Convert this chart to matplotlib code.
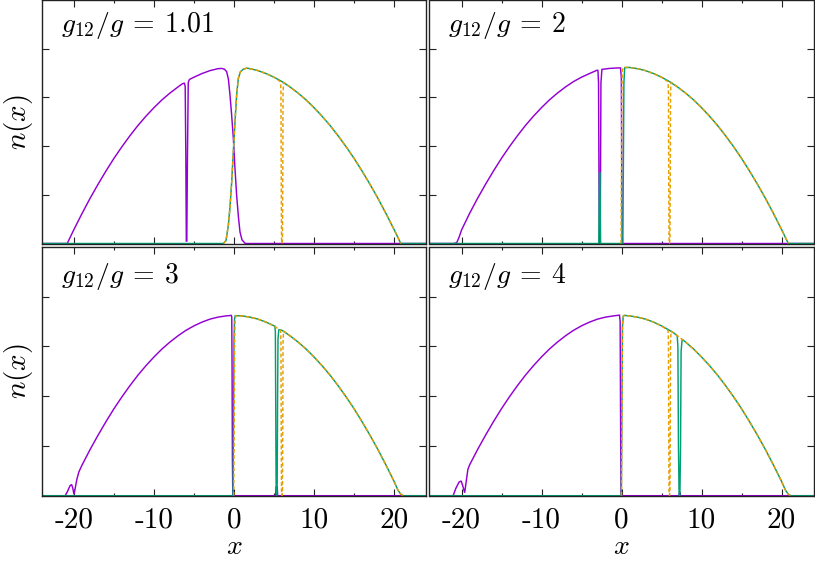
import matplotlib
matplotlib.use('Agg')
import matplotlib.pyplot as plt
from matplotlib.ticker import MultipleLocator, FixedLocator

plt.rcParams['mathtext.fontset'] = 'cm'
plt.rcParams['axes.unicode_minus'] = False

PURPLE = '#9400d3'
GREEN = '#009e73'
ORANGE = '#e69f00'

# ---- data ----
# common density envelope: distance from trap centre -> density
ENV_D = [20.85, 20.5, 20, 19, 18, 17, 16, 15, 14, 13, 12, 11, 10, 9, 8, 7, 6, 5, 4, 3, 2, 1]
ENV_N = [0.0, 0.024, 0.058, 0.123, 0.185, 0.243, 0.298, 0.350, 0.398, 0.443, 0.485, 0.523,
         0.558, 0.590, 0.618, 0.643, 0.665, 0.683, 0.698, 0.710, 0.718, 0.723]

# right-edge tail in the lower panels
TAIL_X = [20.5, 20.85, 21.15, 24]
TAIL_Y = [0.022, 0.006, 0.0, 0.0]

# orange dashed curve: dark soliton at x = 6
ODIP_X = [5.82, 5.87, 5.9, 5.94, 6.0, 6.06, 6.1, 6.13, 6.2]
ODIP_Y = [0.664, 0.62, 0.3, 0.02, 0.0, 0.02, 0.3, 0.62, 0.662]

LABELS = [r'$g_{12}/g\:=\:1.01$', r'$g_{12}/g\:=\:2$', r'$g_{12}/g\:=\:3$', r'$g_{12}/g\:=\:4$']

# panel 1
P1_PUR_X = [-6.5, -6.2, -6.1, -6.02, -5.96, -5.9, -5.82, -5.72, -5.6, -5.5, -5, -4, -3, -2,
            -1.54, -1.2, -0.92, -0.7, -0.5, -0.3, -0.08, 0.1, 0.33, 0.55, 0.75, 1.0, 1.4, 24]
P1_PUR_Y = [0.655, 0.659, 0.645, 0.35, 0.01, 0.01, 0.35, 0.66, 0.672, 0.675, 0.683, 0.698, 0.710, 0.718,
            0.719, 0.716, 0.706, 0.675, 0.609, 0.53, 0.431, 0.32, 0.198, 0.11, 0.047, 0.015, 0.0, 0.0]
P1_RISE_X = [-24, -1.33, -1.0, -0.71, -0.5, -0.29, -0.08, 0.125, 0.33, 0.54, 0.8, 1.17, 1.6]
P1_RISE_Y = [0.0, 0.0, 0.012, 0.074, 0.15, 0.252, 0.38, 0.5, 0.61, 0.678, 0.705, 0.716, 0.72]

# panel 2
P2_PUR_EDGE_X = [-24, -21.0, -20.6, -20.3, -20.0]
P2_PUR_EDGE_Y = [0.0, 0.0, 0.003, 0.026, 0.055]
P2_PUR_X = [-3.1, -2.95, -2.87, -2.82, -2.77, -2.72, -2.67, -2.62, -2.57, -2.45, -1.5, -0.5,
            -0.12, -0.02, 0.03, 0.08, 24]
P2_PUR_Y = [0.711, 0.712, 0.66, 0.3, 0.02, 0.0, 0.02, 0.3, 0.66, 0.715, 0.719, 0.721,
            0.721, 0.68, 0.3, 0.0, 0.0]
P2_GRN_X = [-24, -2.84, -2.8, -2.76, -2.69, -2.65, -2.61, 0.17, 0.24, 0.3, 0.4, 1]
P2_GRN_Y = [0.0, 0.0, 0.15, 0.29, 0.29, 0.15, 0.0, 0.0, 0.35, 0.66, 0.722, 0.723]
P2_ORA_X = [-0.06, -0.01, 0.04, 0.1, 0.25, 1]
P2_ORA_Y = [0.0, 0.3, 0.62, 0.71, 0.724, 0.723]

# panel 3
P3_PUR_EDGE_X = [-24, -21.1, -20.8, -20.5, -20.3, -20.15, -20.0, -19.85, -19.66, -19.4]
P3_PUR_EDGE_Y = [0.0, 0.0, 0.018, 0.04, 0.045, 0.03, 0.005, 0.03, 0.063, 0.095]
P3_PUR_X = [-0.6, -0.35, -0.28, -0.24, -0.2, -0.15, 5.2, 5.26, 5.4, 5.46, 24]
P3_PUR_Y = [0.724, 0.725, 0.72, 0.5, 0.15, 0.0, 0.0, 0.036, 0.036, 0.0, 0.0]
P3_GRN_RISE_X = [-24, -0.12, -0.06, 0.0, 0.06, 0.15, 1]
P3_GRN_RISE_Y = [0.0, 0.0, 0.3, 0.62, 0.71, 0.724, 0.723]
P3_GRN_DIP_X = [5.1, 5.17, 5.21, 5.26, 5.33, 5.4, 5.45, 5.5, 5.6]
P3_GRN_DIP_Y = [0.682, 0.66, 0.4, 0.05, 0.0, 0.05, 0.4, 0.63, 0.668]
P3_ORA_X = [-0.03, 0.03, 0.08, 0.14, 0.25, 1]
P3_ORA_Y = [0.0, 0.3, 0.62, 0.71, 0.724, 0.723]

# panel 4
P4_PUR_EDGE_X = [-24, -21.05, -20.7, -20.3, -20.04, -19.8, -19.6, -19.4, -19.2]
P4_PUR_EDGE_Y = [0.0, 0.0, 0.03, 0.055, 0.059, 0.035, 0.012, 0.06, 0.106]
P4_PUR_X = [-0.5, -0.25, -0.17, -0.12, -0.06, 7.2, 7.25, 7.32, 7.37, 24]
P4_PUR_Y = [0.725, 0.726, 0.7, 0.35, 0.0, 0.0, 0.012, 0.012, 0.0, 0.0]
P4_GRN_RISE_X = [-24, -0.02, 0.05, 0.12, 0.22, 0.35, 1]
P4_GRN_RISE_Y = [0.0, 0.0, 0.35, 0.68, 0.722, 0.725, 0.723]
P4_GRN_DIP_X = [6.5, 6.96, 7.05, 7.12, 7.2, 7.3, 7.38, 7.45, 7.58]
P4_GRN_DIP_Y = [0.655, 0.644, 0.6, 0.2, 0.0, 0.0, 0.2, 0.58, 0.629]
P4_ORA_X = [0.0, 0.06, 0.12, 0.22, 0.35, 1]
P4_ORA_Y = [0.0, 0.35, 0.68, 0.722, 0.725, 0.723]

XTICKS = [-20, -10, 0, 10, 20]
XTICKLABELS = ['-20', '-10', '0', '10', '20']


def left(dlo, dhi):
    pts = [(-d, n) for d, n in zip(ENV_D, ENV_N) if dlo <= d <= dhi]
    return [p[0] for p in pts], [p[1] for p in pts]


def right(dlo, dhi):
    pts = [(d, n) for d, n in zip(ENV_D, ENV_N) if dlo <= d <= dhi][::-1]
    return [p[0] for p in pts], [p[1] for p in pts]


def join(*pieces):
    xs, ys = [], []
    for px, py in pieces:
        xs += list(px)
        ys += list(py)
    return xs, ys


curves = [
    (  # panel 1
        join(([-24], [0.0]), left(7, 20.85), (P1_PUR_X, P1_PUR_Y)),
        join((P1_RISE_X, P1_RISE_Y), right(2, 20.85), ([24], [0.0])),
        join((P1_RISE_X[1:], P1_RISE_Y[1:]), right(2, 5), (ODIP_X, ODIP_Y), right(7, 20.85)),
    ),
    (  # panel 2
        join((P2_PUR_EDGE_X, P2_PUR_EDGE_Y), left(4, 19), (P2_PUR_X, P2_PUR_Y)),
        join((P2_GRN_X, P2_GRN_Y), right(2, 20.85), ([24], [0.0])),
        join((P2_ORA_X, P2_ORA_Y), right(2, 5), (ODIP_X, ODIP_Y), right(7, 20.85)),
    ),
    (  # panel 3
        join((P3_PUR_EDGE_X, P3_PUR_EDGE_Y), left(1, 19), (P3_PUR_X, P3_PUR_Y)),
        join((P3_GRN_RISE_X, P3_GRN_RISE_Y), right(2, 5), (P3_GRN_DIP_X, P3_GRN_DIP_Y),
             right(6, 20), (TAIL_X, TAIL_Y)),
        join((P3_ORA_X, P3_ORA_Y), right(2, 5), (ODIP_X, ODIP_Y), right(7, 20), (TAIL_X[:3], TAIL_Y[:3])),
    ),
    (  # panel 4
        join((P4_PUR_EDGE_X, P4_PUR_EDGE_Y), left(1, 19), (P4_PUR_X, P4_PUR_Y)),
        join((P4_GRN_RISE_X, P4_GRN_RISE_Y), right(2, 6), (P4_GRN_DIP_X, P4_GRN_DIP_Y),
             right(8, 20), (TAIL_X, TAIL_Y)),
        join((P4_ORA_X, P4_ORA_Y), right(2, 5), (ODIP_X, ODIP_Y), right(7, 20), (TAIL_X[:3], TAIL_Y[:3])),
    ),
]

W, H = 815, 561
fig = plt.figure(figsize=(W / 100, H / 100), dpi=100)

rects = [
    (42, 0.0, 384, 243.5),
    (429.5, 0.0, 384, 243.5),
    (42, 247.0, 384, 248.7),
    (429.5, 247.0, 384, 248.7),
]
label_base = [31.7, 31.7, 36.3, 36.3]

for i, (l, t, w, h) in enumerate(rects):
    ax = fig.add_axes([l / W, (H - t - h) / H, w / W, h / H])
    (px, py), (gx, gy), (ox, oy) = curves[i]
    ax.plot(px, py, color=PURPLE, lw=1.05, solid_joinstyle='miter')
    ax.plot(gx, gy, color=GREEN, lw=1.05, solid_joinstyle='miter')
    ax.plot(ox, oy, color=ORANGE, lw=1.05, dashes=(2.6, 1.6))
    ax.set_xlim(-24, 24)
    ax.set_ylim(0, 1)
    ax.xaxis.set_major_locator(FixedLocator(XTICKS))
    ax.xaxis.set_minor_locator(MultipleLocator(5))
    ax.yaxis.set_major_locator(FixedLocator([0.2, 0.4, 0.6, 0.8]))
    ax.yaxis.set_minor_locator(FixedLocator([]))
    ax.tick_params(which='both', direction='in', top=True, right=True, width=0.8, color='#222222')
    ax.tick_params(which='major', length=5)
    ax.tick_params(which='minor', length=2.3)
    ax.tick_params(axis='y', labelleft=False)
    for s in ax.spines.values():
        s.set_linewidth(1.0)
        s.set_color('#222222')
    if i >= 2:
        ax.set_xticklabels(XTICKLABELS, family='cmr10', fontsize=21)
        ax.tick_params(axis='x', pad=8)
        fig.text((l + w / 2) / W, 1 - 554 / H, '$x$', fontsize=20, ha='center', va='baseline')
    else:
        ax.tick_params(axis='x', labelbottom=False)
    if i % 2 == 0:
        ax.set_ylabel('$n(x)$', fontsize=21, labelpad=5)
    ax.text(19 / w, 1 - label_base[i] / h, LABELS[i], transform=ax.transAxes,
            fontsize=20, ha='left', va='baseline')

fig.savefig('out.png', dpi=100)
